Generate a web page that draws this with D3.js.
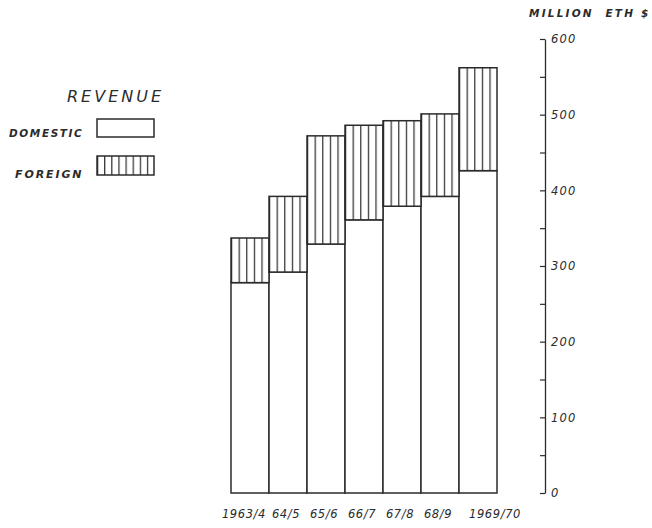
<!DOCTYPE html>
<html>
<head>
<meta charset="utf-8">
<script src="https://cdn.jsdelivr.net/npm/d3@7"></script>
<style>
  html, body { margin: 0; padding: 0; background: #fff; }
  svg { display: block; }
  text { font-family: "DejaVu Sans", sans-serif; font-style: oblique; fill: #2b2b2b; }
</style>
</head>
<body>
<svg id="chart" width="652" height="528"></svg>
<script>
// ---- data ----
const years    = ["1963/4", "64/5", "65/6", "66/7", "67/8", "68/9", "1969/70"];
const domestic = [278, 292, 329, 361, 379, 392, 426];
const foreign  = [59, 100, 143, 125, 113, 109, 136];
const yTicks   = [0, 50, 100, 150, 200, 250, 300, 350, 400, 450, 500, 550, 600];
const yLabels  = [0, 100, 200, 300, 400, 500, 600];
const unitLabel = "MILLION  ETH $";
const legendTitle = "REVENUE";
const seriesNames = ["DOMESTIC", "FOREIGN"];

const ink = "#2b2b2b";
const svg = d3.select("#chart");

const x = d3.scaleBand().domain(years).range([231, 497]).padding(0);
const y = d3.scaleLinear().domain([0, 600]).range([493, 39]);

// hatch pattern aligned with bars
const defs = svg.append("defs");
const strip = x.bandwidth() / 5;
const pat = defs.append("pattern")
  .attr("id", "hatch")
  .attr("patternUnits", "userSpaceOnUse")
  .attr("x", x.range()[0])
  .attr("y", 0)
  .attr("width", strip)
  .attr("height", 10);
pat.append("rect").attr("width", strip).attr("height", 10).attr("fill", "#fff");
pat.append("line").attr("x1", 0.6).attr("x2", 0.6).attr("y1", 0).attr("y2", 10)
  .attr("stroke", ink).attr("stroke-width", 1.2);

const legStrip = 57 / 8;
const pat2 = defs.append("pattern")
  .attr("id", "hatchLegend")
  .attr("patternUnits", "userSpaceOnUse")
  .attr("x", 97)
  .attr("y", 0)
  .attr("width", legStrip)
  .attr("height", 10);
pat2.append("rect").attr("width", legStrip).attr("height", 10).attr("fill", "#fff");
pat2.append("line").attr("x1", 0.6).attr("x2", 0.6).attr("y1", 0).attr("y2", 10)
  .attr("stroke", ink).attr("stroke-width", 1.2);

const data = years.map((yr, i) => ({ yr, d: domestic[i], f: foreign[i] }));

// domestic bars
svg.append("g").selectAll("rect.dom").data(data).join("rect")
  .attr("x", d => x(d.yr))
  .attr("width", x.bandwidth())
  .attr("y", d => y(d.d))
  .attr("height", d => y(0) - y(d.d))
  .attr("fill", "#fff")
  .attr("stroke", ink).attr("stroke-width", 1.5);

// foreign bars
svg.append("g").selectAll("rect.for").data(data).join("rect")
  .attr("x", d => x(d.yr))
  .attr("width", x.bandwidth())
  .attr("y", d => y(d.d + d.f))
  .attr("height", d => y(d.d) - y(d.d + d.f))
  .attr("fill", "url(#hatch)")
  .attr("stroke", ink).attr("stroke-width", 1.5);

// y axis on right, ticks pointing left
const axis = d3.axisRight(y)
  .tickValues(yTicks)
  .tickSizeInner(-5)
  .tickSizeOuter(0)
  .tickPadding(6)
  .tickFormat(v => yLabels.includes(v) ? String(v) : "");
const ag = svg.append("g").attr("transform", "translate(545,0)").call(axis);
ag.select(".domain").attr("stroke", ink).attr("stroke-width", 1.3);
ag.selectAll(".tick line").attr("stroke", ink).attr("stroke-width", 1.2);
ag.selectAll(".tick text")
  .attr("font-size", 11.5)
  .attr("letter-spacing", 1.2)
  .style("font-family", "DejaVu Sans, sans-serif")
  .style("font-style", "oblique")
  .attr("fill", ink);

// unit label
svg.append("text")
  .attr("x", 529).attr("y", 17)
  .attr("font-size", 10.5)
  .attr("font-weight", "bold")
  .attr("letter-spacing", 2.2)
  .attr("xml:space", "preserve")
  .style("white-space", "pre")
  .text(unitLabel);

// x labels
svg.append("g").selectAll("text").data(years).join("text")
  .attr("x", (d, i) => i === 0 ? x(d) + x.bandwidth() - 3
                      : i === years.length - 1 ? x(d) + 10
                      : x(d) + x.bandwidth() / 2 - 2)
  .attr("y", 518)
  .attr("text-anchor", (d, i) => i === 0 ? "end" : i === years.length - 1 ? "start" : "middle")
  .attr("font-size", 11.5)
  .attr("letter-spacing", 0.6)
  .text(d => d);

// legend
svg.append("text")
  .attr("x", 67).attr("y", 102)
  .attr("font-size", 16)
  .attr("letter-spacing", 3)
  .text(legendTitle);

svg.append("text")
  .attr("x", 9).attr("y", 137)
  .attr("font-size", 10.5)
  .attr("font-weight", "bold")
  .attr("letter-spacing", 1.6)
  .text(seriesNames[0]);

svg.append("rect")
  .attr("x", 97).attr("y", 119).attr("width", 57).attr("height", 18)
  .attr("fill", "#fff").attr("stroke", ink).attr("stroke-width", 1.5);

svg.append("text")
  .attr("x", 15).attr("y", 178)
  .attr("font-size", 11)
  .attr("font-weight", "bold")
  .attr("letter-spacing", 1.9)
  .text(seriesNames[1]);

svg.append("rect")
  .attr("x", 97).attr("y", 156).attr("width", 57).attr("height", 19)
  .attr("fill", "url(#hatchLegend)").attr("stroke", ink).attr("stroke-width", 1.5);
</script>
</body>
</html>
